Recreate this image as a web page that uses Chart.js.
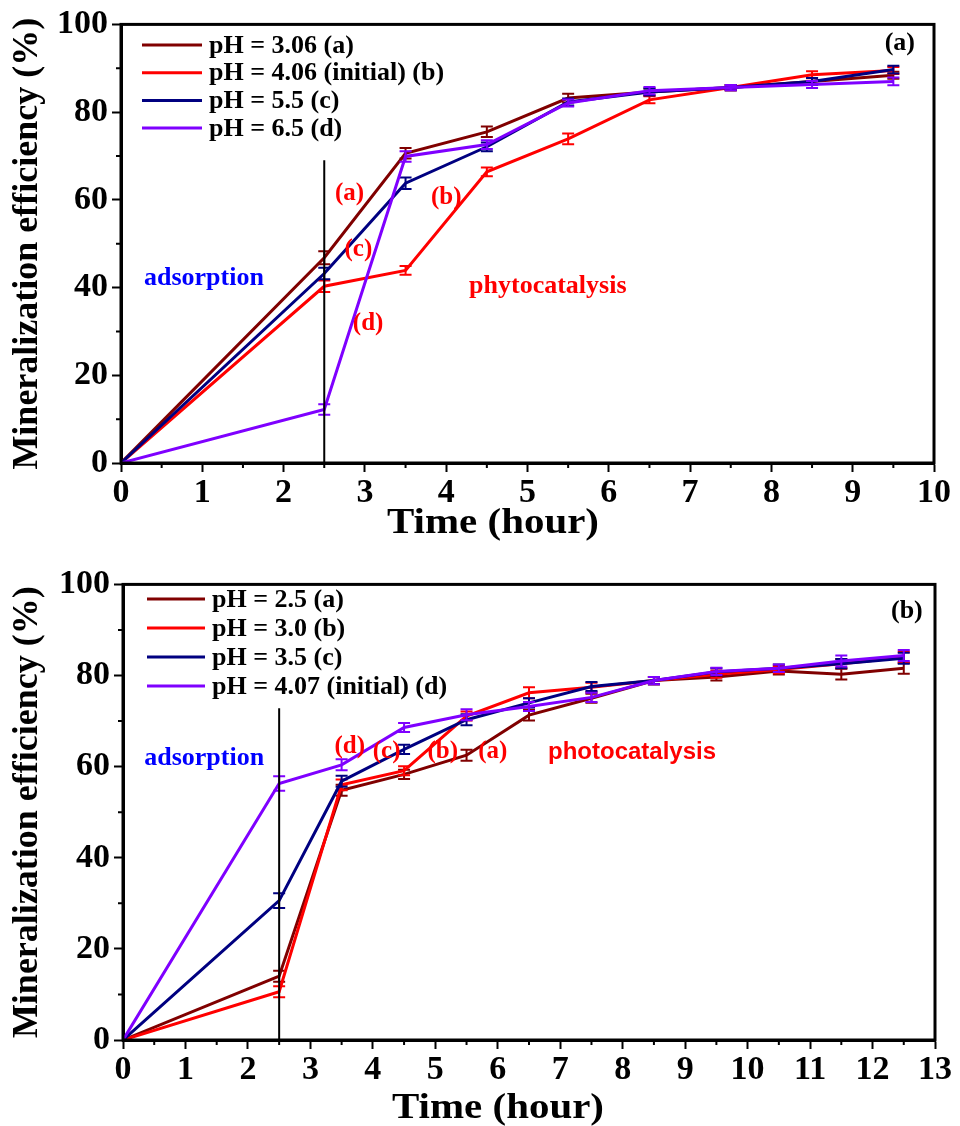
<!DOCTYPE html>
<html>
<head>
<meta charset="utf-8">
<title>Mineralization efficiency vs time</title>
<script src="https://cdn.jsdelivr.net/npm/chart.js@4.4.1/dist/chart.umd.min.js"></script>
<style>
  body { margin: 0; background: #fff; }
  canvas { display: block; }
</style>
</head>
<body>
<canvas id="chart-a" width="960" height="560"></canvas>
<canvas id="chart-b" width="960" height="566"></canvas>
<script>
// ---- panel (a) data ----
const timeA = [0, 2.5, 3.5, 4.5, 5.5, 6.5, 7.5, 8.5, 9.5];
const labelsA = ['pH = 3.06 (a)', 'pH = 4.06 (initial) (b)', 'pH = 5.5 (c)', 'pH = 6.5 (d)'];
const effA_a = [0, 46.8, 70.6, 75.5, 83.2, 84.6, 85.6, 87.0, 88.4];
const effA_b = [0, 40.3, 43.9, 66.4, 73.9, 82.8, 85.6, 88.5, 89.5];
const effA_c = [0, 43.2, 63.8, 72.1, 82.3, 84.6, 85.6, 87.0, 89.7];
const effA_d = [0, 12.2, 69.9, 72.6, 82.1, 84.9, 85.6, 86.3, 87.0];
const errA_a = [0, 1.5, 1.2, 1.2, 1.0, 0.8, 0.6, 0.8, 0.8];
const errA_b = [0, 1.3, 1.0, 1.0, 1.2, 0.8, 0.6, 0.8, 0.8];
const errA_c = [0, 1.3, 1.3, 1.0, 0.8, 0.8, 0.6, 0.8, 0.9];
const errA_d = [0, 1.2, 1.2, 1.0, 0.8, 0.8, 0.6, 0.8, 0.9];
const ticksXA = [0, 1, 2, 3, 4, 5, 6, 7, 8, 9, 10];

// ---- panel (b) data ----
const timeB = [0, 2.5, 3.5, 4.5, 5.5, 6.5, 7.5, 8.5, 9.5, 10.5, 11.5, 12.5];
const labelsB = ['pH = 2.5 (a)', 'pH = 3.0 (b)', 'pH = 3.5 (c)', 'pH = 4.07 (initial) (d)'];
const effB_a = [0, 14.0, 54.8, 58.3, 62.5, 71.3, 75.0, 78.9, 79.7, 81.0, 80.3, 81.6];
const effB_b = [0, 10.6, 56.0, 59.1, 71.1, 76.2, 77.4, 78.9, 80.3, 81.3, 82.6, 84.0];
const effB_c = [0, 30.6, 56.8, 63.8, 70.3, 74.0, 77.6, 78.9, 80.8, 81.6, 82.6, 83.8];
const effB_d = [0, 56.3, 60.4, 68.6, 71.4, 73.2, 75.2, 78.9, 80.9, 81.6, 83.2, 84.4];
const errB_a = [0, 1.2, 1.2, 1.0, 1.2, 1.2, 1.0, 0.8, 0.8, 0.8, 1.2, 1.2];
const errB_b = [0, 1.2, 1.2, 1.0, 1.0, 1.2, 1.0, 0.8, 0.8, 0.8, 1.0, 1.2];
const errB_c = [0, 1.6, 1.2, 1.0, 1.2, 1.0, 1.0, 0.8, 0.8, 0.8, 1.0, 1.2];
const errB_d = [0, 1.6, 1.2, 1.0, 1.2, 1.0, 1.0, 0.8, 0.8, 0.8, 1.2, 1.2];
const ticksXB = [0, 1, 2, 3, 4, 5, 6, 7, 8, 9, 10, 11, 12, 13];

const ticksY = [0, 20, 40, 60, 80, 100];
const switchTime = 2.5;       // lamp switched on
const switchTopA = 69;
const switchTopB = 72.8;

const seriesColors = ['#800000', '#ff0000', '#000080', '#7f00ff'];
const SERIF = '"Liberation Serif", "Times New Roman", serif';

// text labels inside the plots (data coordinates)
const notesA = [
  { x: 1.02, y: 42.2, text: 'adsorption', color: '#0000ff', font: 'bold 26px ' + SERIF },
  { x: 5.25, y: 40.3, text: 'phytocatalysis', color: '#ff0000', font: 'bold 26px ' + SERIF },
  { x: 2.81, y: 61.5, text: '(a)', color: '#ff0000', font: 'bold 25px ' + SERIF },
  { x: 4.0, y: 60.5, text: '(b)', color: '#ff0000', font: 'bold 25px ' + SERIF },
  { x: 2.92, y: 48.6, text: '(c)', color: '#ff0000', font: 'bold 25px ' + SERIF },
  { x: 3.04, y: 31.7, text: '(d)', color: '#ff0000', font: 'bold 25px ' + SERIF },
  { x: 9.58, y: 95.8, text: '(a)', color: '#000000', font: 'bold 26px ' + SERIF }
];
const notesB = [
  { x: 1.3, y: 61.9, text: 'adsorption', color: '#0000ff', font: 'bold 26px ' + SERIF },
  { x: 8.15, y: 63.2, text: 'photocatalysis', color: '#ff0000', font: 'bold 24px "Liberation Sans", Arial, sans-serif' },
  { x: 3.63, y: 64.5, text: '(d)', color: '#ff0000', font: 'bold 25px ' + SERIF },
  { x: 4.22, y: 63.4, text: '(c)', color: '#ff0000', font: 'bold 25px ' + SERIF },
  { x: 5.12, y: 63.4, text: '(b)', color: '#ff0000', font: 'bold 25px ' + SERIF },
  { x: 5.92, y: 63.4, text: '(a)', color: '#ff0000', font: 'bold 25px ' + SERIF },
  { x: 12.55, y: 94.0, text: '(b)', color: '#000000', font: 'bold 26px ' + SERIF }
];

function toPoints(xs, ys) {
  return xs.map((x, i) => ({ x: x, y: ys[i] }));
}

function makeDatasets(time, labels, values, errors, switchTop) {
  const sets = labels.map((label, i) => ({
    label: label,
    data: toPoints(time, values[i]),
    errors: errors[i],
    borderColor: seriesColors[i],
    backgroundColor: seriesColors[i],
    borderWidth: 3,
    pointRadius: 0,
    tension: 0,
    order: 4 - i
  }));
  // vertical line separating adsorption and photocatalysis
  sets.push({
    label: '',
    data: [{ x: switchTime, y: 0 }, { x: switchTime, y: switchTop }],
    borderColor: '#000',
    borderWidth: 2,
    pointRadius: 0,
    order: 0,
    noLegend: true
  });
  return sets;
}

// error bars drawn through the scales
const errorBars = {
  id: 'errorBars',
  afterDatasetDraw(chart, args) {
    const ds = chart.data.datasets[args.index];
    if (!ds.errors) return;
    const ctx = chart.ctx;
    const y = chart.scales.y;
    ctx.save();
    ctx.strokeStyle = ds.borderColor;
    ctx.lineWidth = 2;
    args.meta.data.forEach((pt, i) => {
      const e = ds.errors[i];
      if (!e) return;
      const v = ds.data[i].y;
      const top = y.getPixelForValue(v + e);
      const bot = y.getPixelForValue(v - e);
      ctx.beginPath();
      ctx.moveTo(pt.x, top); ctx.lineTo(pt.x, bot);
      ctx.moveTo(pt.x - 6, top); ctx.lineTo(pt.x + 6, top);
      ctx.moveTo(pt.x - 6, bot); ctx.lineTo(pt.x + 6, bot);
      ctx.stroke();
    });
    ctx.restore();
  }
};

// frame, minor ticks, legend, x title and notes
const decorations = {
  id: 'decorations',
  afterDraw(chart, args, opts) {
    const { ctx, chartArea: a, scales: { x, y } } = chart;
    ctx.save();
    ctx.strokeStyle = '#000';
    ctx.lineWidth = 3;
    ctx.strokeRect(a.left, a.top, a.right - a.left, a.bottom - a.top);

    ctx.lineWidth = 2;
    ctx.beginPath();
    for (let v = 0.5; v < x.max; v += 1) {
      const px = x.getPixelForValue(v);
      ctx.moveTo(px, a.bottom); ctx.lineTo(px, a.bottom + 5);
    }
    for (let v = 10; v < y.max; v += 20) {
      const py = y.getPixelForValue(v);
      ctx.moveTo(a.left, py); ctx.lineTo(a.left - 5, py);
    }
    ctx.stroke();

    // legend
    const lg = opts.legend;
    ctx.font = 'bold 26px ' + SERIF;
    ctx.textBaseline = 'middle';
    ctx.textAlign = 'left';
    chart.data.datasets.filter(d => !d.noLegend).forEach((ds, i) => {
      const ry = lg.y + i * lg.gap;
      ctx.strokeStyle = ds.borderColor;
      ctx.lineWidth = 3;
      ctx.beginPath();
      ctx.moveTo(lg.x, ry); ctx.lineTo(lg.x + lg.len, ry);
      ctx.stroke();
      ctx.fillStyle = '#000';
      ctx.fillText(ds.label, lg.x + lg.len + 7, ry + 1);
    });

    // x axis title (wide bold face as in the original)
    const t = opts.xTitle;
    ctx.save();
    ctx.translate(t.x, t.y);
    ctx.scale(1.17, 1);
    ctx.font = 'bold 35px ' + SERIF;
    ctx.fillStyle = '#000';
    ctx.textAlign = 'center';
    ctx.textBaseline = 'alphabetic';
    ctx.fillText('Time (hour)', 0, 0);
    ctx.restore();

    // notes
    ctx.textAlign = 'center';
    ctx.textBaseline = 'middle';
    opts.notes.forEach(n => {
      ctx.font = n.font;
      ctx.fillStyle = n.color;
      ctx.fillText(n.text, x.getPixelForValue(n.x), y.getPixelForValue(n.y));
    });
    ctx.restore();
  }
};

function makeChart(id, cfg) {
  return new Chart(document.getElementById(id), {
    type: 'line',
    data: { datasets: cfg.datasets },
    options: {
      responsive: false,
      animation: false,
      devicePixelRatio: 1,
      layout: { padding: cfg.padding },
      plugins: {
        legend: { display: false },
        tooltip: { enabled: false },
        decorations: { legend: cfg.legend, notes: cfg.notes, xTitle: cfg.xTitle }
      },
      scales: {
        x: {
          type: 'linear',
          min: 0,
          max: cfg.xMax,
          afterBuildTicks: s => { s.ticks = cfg.xTicks.map(v => ({ value: v })); },
          afterFit: s => { s.height = cfg.xHeight; },
          ticks: {
            color: '#000',
            autoSkip: false,
            maxRotation: 0,
            padding: cfg.xTickPad,
            font: { family: SERIF, weight: 'bold', size: 34 }
          },
          grid: { drawOnChartArea: false, tickLength: 9, tickWidth: 2, tickColor: '#000' },
          border: { display: true, color: '#000', width: 3 }
        },
        y: {
          min: 0,
          max: 100,
          afterBuildTicks: s => { s.ticks = ticksY.map(v => ({ value: v })); },
          afterFit: s => { s.width = cfg.yWidth; },
          ticks: {
            color: '#000',
            padding: 4,
            font: { family: SERIF, weight: 'bold', size: 34 }
          },
          grid: { drawOnChartArea: false, tickLength: 9, tickWidth: 2, tickColor: '#000' },
          border: { display: true, color: '#000', width: 3 },
          title: {
            display: true,
            text: 'Mineralization efficiency (%)',
            color: '#000',
            padding: { top: 10, bottom: 0 },
            font: { family: SERIF, weight: 'bold', size: 36, lineHeight: 1 }
          }
        }
      }
    },
    plugins: [errorBars, decorations]
  });
}

makeChart('chart-a', {
  datasets: makeDatasets(timeA, labelsA, [effA_a, effA_b, effA_c, effA_d],
    [errA_a, errA_b, errA_c, errA_d], switchTopA),
  padding: { top: 23, right: 26, bottom: 0, left: 0 },
  xMax: 10, xTicks: ticksXA, xHeight: 97, xTickPad: 1, yWidth: 121,
  xTitle: { x: 493, y: 533 },
  legend: { x: 142, y: 45, gap: 27.7, len: 60 },
  notes: notesA
});

makeChart('chart-b', {
  datasets: makeDatasets(timeB, labelsB, [effB_a, effB_b, effB_c, effB_d],
    [errB_a, errB_b, errB_c, errB_d], switchTopB),
  padding: { top: 15, right: 25, bottom: 0, left: 0 },
  xMax: 13, xTicks: ticksXB, xHeight: 86, xTickPad: 1, yWidth: 123,
  xTitle: { x: 498, y: 558 },
  legend: { x: 147, y: 39, gap: 29, len: 58 },
  notes: notesB
});
</script>
</body>
</html>
